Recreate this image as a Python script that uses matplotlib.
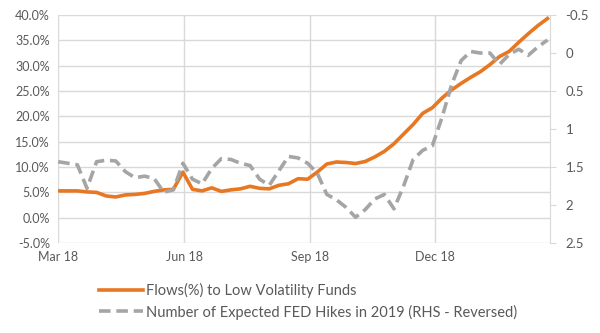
import numpy as np
import pandas as pd
import matplotlib
matplotlib.use('Agg')
import matplotlib.pyplot as plt
import matplotlib.dates as mdates
from matplotlib.ticker import FuncFormatter

# weekly observations, Mar 2018 - Feb 2019
start_date = '2018-03-01'
flows_pct = [5.3, 5.3, 5.3, 5.1, 5.0, 4.3, 4.1, 4.5, 4.6, 4.8,
             5.2, 5.5, 5.6, 9.0, 5.6, 5.3, 5.9, 5.2, 5.5, 5.7,
             6.2, 5.8, 5.7, 6.4, 6.7, 7.7, 7.6, 9.0, 10.6, 11.0,
             10.9, 10.7, 11.1, 12.0, 13.1, 14.6, 16.5, 18.4, 20.6, 21.7,
             23.6, 25.2, 26.5, 27.7, 28.8, 30.2, 31.8, 32.8, 34.6, 36.3,
             37.9, 39.3]
fed_hikes = [1.43, 1.45, 1.47, 1.78, 1.43, 1.41, 1.42, 1.56, 1.64, 1.62,
             1.65, 1.83, 1.80, 1.45, 1.66, 1.72, 1.52, 1.39, 1.40, 1.45,
             1.48, 1.66, 1.74, 1.55, 1.36, 1.38, 1.45, 1.58, 1.86, 1.93,
             2.03, 2.16, 2.06, 1.92, 1.86, 2.05, 1.75, 1.40, 1.28, 1.22,
             0.85, 0.42, 0.10, -0.02, 0.00, 0.00, 0.15, 0.02, -0.05, 0.03,
             -0.08, -0.17]
left_ticks = [-5, 0, 5, 10, 15, 20, 25, 30, 35, 40]
right_ticks = [-0.5, 0, 0.5, 1, 1.5, 2, 2.5]
month_ticks = ['2018-03-01', '2018-06-01', '2018-09-01', '2018-12-01']
month_labels = ['Mar 18', 'Jun 18', 'Sep 18', 'Dec 18']

dates = pd.date_range(start_date, periods=len(flows_pct), freq='7D')

orange = '#E87722'
grey = '#A5A5A5'
grid_col = '#D9D9D9'
txt_col = '#595959'

plt.rcParams['font.family'] = ['Lato', 'DejaVu Sans']
fig = plt.figure(figsize=(6.0, 3.33), dpi=100)
ax1 = fig.add_axes([0.097, 0.270, 0.820, 0.685])
ax2 = ax1.twinx()

# Lines
l1, = ax1.plot(dates, flows_pct, color=orange, lw=2.6, zorder=3,
               label='Flows(%) to Low Volatility Funds')
l2, = ax2.plot(dates, fed_hikes, color=grey, lw=2.6, ls=(0, (3.2, 1.6)),
               zorder=2, label='Number of Expected FED Hikes in 2019 (RHS - Reversed)')

# Left axis
ax1.set_ylim(-5, 40)
ax1.set_yticks(left_ticks)
ax1.yaxis.set_major_formatter(FuncFormatter(lambda v, p: '%.1f%%' % v))
ax1.set_xlim(dates[0], dates[-1] + pd.Timedelta(days=2))
ax1.set_xticks(pd.to_datetime(month_ticks))
ax1.set_xticklabels(month_labels)
ax1.grid(True, color=grid_col, lw=1.0)
ax1.set_axisbelow(True)
ax1.tick_params(axis='both', length=0, colors=txt_col, labelsize=9)
ax1.tick_params(axis='y', pad=6)
ax1.tick_params(axis='x', pad=6)

# Right axis (reversed)
ax2.set_ylim(2.5, -0.5)
ax2.set_yticks(right_ticks)
ax2.yaxis.set_major_formatter(FuncFormatter(lambda v, p: '0' if v == 0 else '%g' % v))
ax2.tick_params(axis='y', length=4, colors=txt_col, labelsize=9.5, color=grid_col, pad=7)

for ax in (ax1, ax2):
    for s in ax.spines.values():
        s.set_visible(False)
ax2.spines['right'].set_visible(True)
ax2.spines['right'].set_color(grid_col)

fig.legend(handles=[l1, l2], loc='upper left', bbox_to_anchor=(0.155, 0.168),
           frameon=False, fontsize=10.5, handlelength=3.0, handletextpad=0.2,
           labelspacing=0.45, labelcolor=txt_col, borderaxespad=0)

plt.savefig('out.png', dpi=100)
